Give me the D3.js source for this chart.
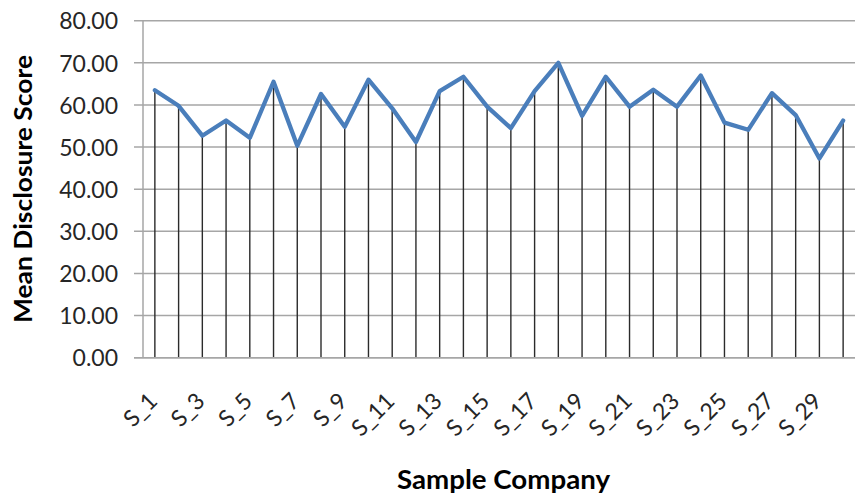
<!DOCTYPE html>
<html>
<head>
<meta charset="utf-8">
<script src="https://cdn.jsdelivr.net/npm/d3@7"></script>
<style>
  html, body { margin: 0; padding: 0; background: #fff; }
  svg { display: block; }
</style>
</head>
<body>
<svg id="chart" width="855" height="495"></svg>
<script>
// Sample companies on the category axis
const companies = ["S_1","S_2","S_3","S_4","S_5","S_6","S_7","S_8","S_9","S_10",
                   "S_11","S_12","S_13","S_14","S_15","S_16","S_17","S_18","S_19","S_20",
                   "S_21","S_22","S_23","S_24","S_25","S_26","S_27","S_28","S_29","S_30"];
// Mean disclosure score per company
const meanScores = [63.5, 59.8, 52.7, 56.3, 52.2, 65.5, 50.3, 62.6, 54.8, 66.0,
                    59.2, 51.2, 63.3, 66.7, 59.6, 54.5, 63.3, 70.0, 57.4, 66.7,
                    59.6, 63.6, 59.6, 67.0, 55.8, 54.1, 62.8, 57.6, 47.3, 56.3];
// Category labels that are printed (every other company)
const shownLabels = ["S_1","S_3","S_5","S_7","S_9","S_11","S_13","S_15",
                     "S_17","S_19","S_21","S_23","S_25","S_27","S_29"];
// Value axis ticks
const yTicks = [0, 10, 20, 30, 40, 50, 60, 70, 80];
const yTitle = "Mean Disclosure Score";
const xTitle = "Sample Company";

const svg = d3.select("#chart");
const plot = { left: 143, right: 855, top: 20.7, bottom: 357.7 };
const font = "Lato, 'Open Sans', sans-serif";

const x = d3.scaleBand().domain(companies).range([plot.left, plot.right]).padding(0);
const y = d3.scaleLinear().domain([0, 80]).range([plot.bottom, plot.top]);
const cx = d => x(d) + x.bandwidth() / 2;

// Horizontal gridlines
svg.append("g")
  .selectAll("line")
  .data(yTicks)
  .join("line")
  .attr("x1", plot.left - 9)
  .attr("x2", plot.right)
  .attr("y1", d => y(d))
  .attr("y2", d => y(d))
  .attr("stroke", "#a6a6a6")
  .attr("stroke-width", 1.5);

// Value axis line
svg.append("line")
  .attr("x1", plot.left).attr("x2", plot.left)
  .attr("y1", plot.top).attr("y2", plot.bottom)
  .attr("stroke", "#a6a6a6").attr("stroke-width", 1.5);

// Value axis labels
const yAxis = d3.axisLeft(y).tickValues(yTicks).tickFormat(d3.format(".2f")).tickSize(0).tickPadding(25);
const yg = svg.append("g").attr("transform", `translate(${plot.left},0)`).call(yAxis);
yg.select(".domain").remove();
yg.selectAll("text")
  .attr("font-family", font)
  .attr("font-size", 23)
  .attr("fill", "#262626")
  .attr("dy", "0.36em");

// Drop lines from each point to the category axis
svg.append("g")
  .selectAll("line")
  .data(companies)
  .join("line")
  .attr("x1", d => cx(d))
  .attr("x2", d => cx(d))
  .attr("y1", (d, i) => y(meanScores[i]))
  .attr("y2", y(0))
  .attr("stroke", "#2b2b2b")
  .attr("stroke-width", 1.4);

// Category axis line
svg.append("line")
  .attr("x1", plot.left - 9).attr("x2", plot.right)
  .attr("y1", y(0)).attr("y2", y(0))
  .attr("stroke", "#a6a6a6").attr("stroke-width", 1.5);

// Score line
const line = d3.line()
  .x((d, i) => cx(companies[i]))
  .y(d => y(d));
svg.append("path")
  .datum(meanScores)
  .attr("d", line)
  .attr("fill", "none")
  .attr("stroke", "#4a7ebb")
  .attr("stroke-width", 4.3)
  .attr("stroke-linejoin", "round")
  .attr("stroke-linecap", "round");

// Rotated category labels
svg.append("g")
  .selectAll("text")
  .data(shownLabels)
  .join("text")
  .attr("transform", d => `translate(${cx(d) - 2},${y(0) + 39}) rotate(-45)`)
  .attr("text-anchor", "end")
  .attr("dy", "0.36em")
  .attr("font-family", font)
  .attr("font-size", 23)
  .attr("fill", "#262626")
  .text(d => d);

// Axis titles
svg.append("text")
  .attr("transform", `translate(32,189) rotate(-90)`)
  .attr("text-anchor", "middle")
  .attr("font-family", font)
  .attr("font-weight", "bold")
  .attr("font-size", 25)
  .attr("fill", "#000")
  .attr("textLength", 268)
  .attr("lengthAdjust", "spacingAndGlyphs")
  .text(yTitle);

svg.append("text")
  .attr("x", 503.5)
  .attr("y", 489)
  .attr("text-anchor", "middle")
  .attr("font-family", font)
  .attr("font-weight", "bold")
  .attr("font-size", 26)
  .attr("fill", "#000")
  .attr("textLength", 213)
  .attr("lengthAdjust", "spacingAndGlyphs")
  .text(xTitle);
</script>
</body>
</html>
